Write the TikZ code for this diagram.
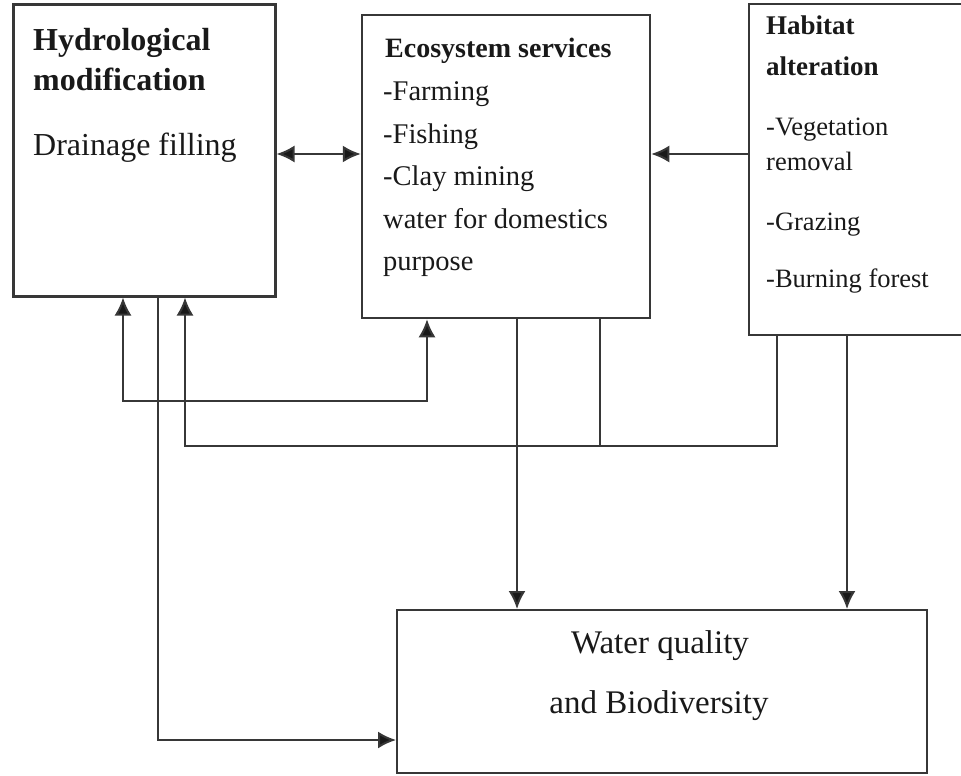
\documentclass[tikz,border=0pt]{standalone}
\usepackage{fontspec}
\setmainfont{Liberation Serif}
\usepackage{tikz}
\usetikzlibrary{arrows.meta}

\definecolor{linegray}{RGB}{55,55,55}
\definecolor{inkblack}{RGB}{25,25,25}

\begin{document}
\begin{tikzpicture}[x=1pt,y=-1pt]
        \tikzset{box/.style = {shape=rectangle,draw=linegray,line width=2.5pt,minimum width=#1,inner sep=0pt}}
        \tikzset{txt/.style = {anchor=base west,inner sep=0pt,text=inkblack}}
        \tikzset{ctxt/.style = {anchor=base,inner sep=0pt,text=inkblack}}
        \tikzset{edge/.style = {draw=linegray,line width=2pt,> = {Latex[length=18pt,width=17pt,fill=inkblack]}}}
        \useasboundingbox (0,0) rectangle (961,776);
        % boxes
        \node[box=262pt,minimum height=291pt,line width=3pt] (hydro) at (144,150.5) {};
        \node[box=288pt,minimum height=303pt] (eco) at (506,166.5) {};
        \node[box=221pt,minimum height=331pt,line width=2pt] (habitat) at (859.5,169.5) {};
        \node[box=530pt,minimum height=163pt,line width=2pt] (water) at (662,691.5) {};
        % texts
        \node[txt,font=\fontsize{32}{32}\selectfont\bfseries] (h1) at (33,51) {Hydrological};
        \node[txt,font=\fontsize{32}{32}\selectfont\bfseries] (h2) at (33,91) {modification};
        \node[txt,font=\fontsize{32}{32}\selectfont] (h3) at (33,155) {Drainage filling};
        \node[txt,font=\fontsize{28}{28}\selectfont\bfseries] (e1) at (385,58) {Ecosystem services};
        \node[txt,font=\fontsize{28.5}{28.5}\selectfont] (e2) at (383,100) {-Farming};
        \node[txt,font=\fontsize{28.5}{28.5}\selectfont] (e3) at (383,143) {-Fishing};
        \node[txt,font=\fontsize{28.5}{28.5}\selectfont] (e4) at (383,185) {-Clay mining};
        \node[txt,font=\fontsize{28.5}{28.5}\selectfont] (e5) at (383,228) {water for domestics};
        \node[txt,font=\fontsize{28.5}{28.5}\selectfont] (e6) at (383,270) {purpose};
        \node[txt,font=\fontsize{27}{27}\selectfont\bfseries] (c1) at (766,35) {Habitat};
        \node[txt,font=\fontsize{27}{27}\selectfont\bfseries] (c2) at (766,75) {alteration};
        \node[txt,font=\fontsize{26.5}{26.5}\selectfont] (c3) at (766,135) {-Vegetation};
        \node[txt,font=\fontsize{26.5}{26.5}\selectfont] (c4) at (766,170) {removal};
        \node[txt,font=\fontsize{26.5}{26.5}\selectfont] (c5) at (766,230) {-Grazing};
        \node[txt,font=\fontsize{26.5}{26.5}\selectfont] (c6) at (766,287) {-Burning forest};
        \node[ctxt,font=\fontsize{33}{33}\selectfont] (w1) at (660,653) {Water quality};
        \node[ctxt,font=\fontsize{33}{33}\selectfont] (w2) at (659,713) {and Biodiversity};
        % bends
        \coordinate (k1) at (123,401);
        \coordinate (k2) at (427,401);
        \coordinate (k3) at (777,446);
        \coordinate (k4) at (185,446);
        \coordinate (k5) at (600,446);
        \coordinate (k6) at (158,740);
        % connectors
        \draw[edge,<->] (hydro.east |- 0,154) -- (eco.west |- 0,154);
        \draw[edge,->] (habitat.west |- 0,154) -- (eco.east |- 0,154);
        \draw[edge,<->] (hydro.south -| k1) -- (k1) -- (k2) -- (eco.south -| k2);
        \draw[edge,->] (habitat.south -| k3) -- (k3) -- (k4) -- (hydro.south -| k4);
        \draw[edge] (eco.south -| k5) -- (k5);
        \draw[edge,->] (hydro.south -| k6) -- (k6) -- (water.west |- k6);
        \draw[edge,->] (eco.south -| 517,0) -- (water.north -| 517,0);
        \draw[edge,->] (habitat.south -| 847,0) -- (water.north -| 847,0);
      \end{tikzpicture}
\end{document}
